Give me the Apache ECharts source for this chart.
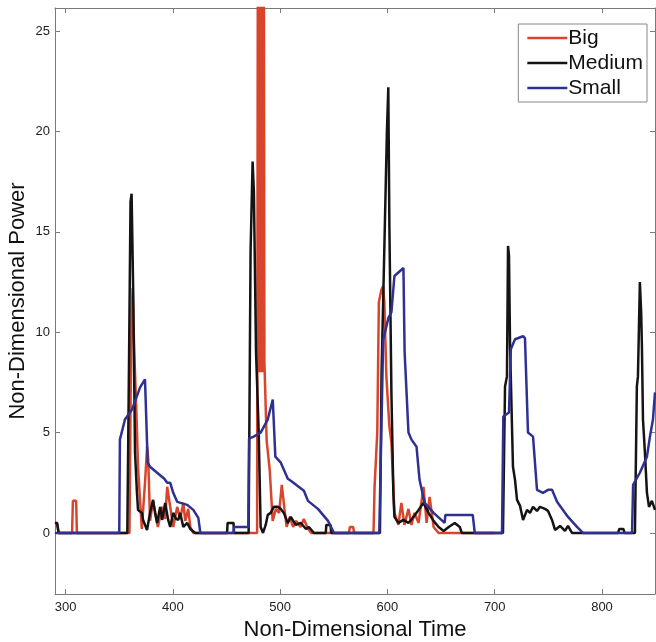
<!DOCTYPE html>
<html>
<head>
<meta charset="utf-8">
<script src="https://cdn.jsdelivr.net/npm/echarts@6/dist/echarts.min.js"></script>
<style>
html,body{margin:0;padding:0;background:#fff;}
#chart{width:656px;height:642px;}
</style>
</head>
<body>
<div id="chart"></div>
<script>
// Tick labels
var xTicks = [300, 400, 500, 600, 700, 800];
var yTicks = [0, 5, 10, 15, 20, 25];

// Series: Big (red)
var bigT = [290, 292, 293.5, 306, 306.8, 309.8, 310.5, 359.5, 360.5, 361.5, 362.5, 364, 366, 367.5, 371, 374, 376, 377, 378.7, 381.5, 386, 390, 392.8, 394.7, 397.5, 400.3, 404, 406.8, 409.7, 411.5, 414.3, 416.2, 419,
  478.5, 479.2, 480.2, 481.2, 482.2, 483.2, 484.2, 484.8, 485.3, 487.4, 490.3, 493, 496, 499, 501.5, 504, 506, 509, 512, 515, 519, 522, 526, 529, 564, 565, 568, 569,
  587, 588, 590.5, 592, 594.3, 596, 597.1, 599, 601.8, 603.7, 605.5, 606.5, 610.2, 613, 615.8, 619.6, 622.4, 625.2, 629, 633.6, 636.5, 639.3, 643, 647.7, 700];
var bigP = [0.5, 0.5, 0, 0, 1.6, 1.6, 0, 0, 6, 11, 12.2, 9, 6, 3.3, 0.2, 2.5, 4.3, 3.7, 0.6, 1.6, 0.3, 1.3, 0.7, 2.3, 1.3, 0.3, 1.3, 0.7, 1.5, 0.6, 1.2, 0.3, 0,
  0, 30, 8, 30, 8, 30, 8, 30, 8.5, 4.6, 3.1, 0.6, 1.2, 1.0, 2.4, 1.2, 0.3, 0.8, 0.3, 0.6, 0.3, 0.7, 0.2, 0, 0, 0.3, 0.3, 0,
  0, 2.3, 5, 11.5, 12.1, 12.3, 11.5, 7.8, 5.3, 4.5, 2.3, 1.0, 0.4, 1.5, 0.4, 1.2, 0.4, 1.0, 0.5, 2.3, 0.5, 1.8, 0.3, 0, 0];

// Series: Medium (black)
var mediumT = [290, 292, 293.5, 357.5, 359, 360.5, 361.5, 363, 364.7, 366.5, 367.5, 371.2, 372.2, 375.9, 378.7, 381.5, 383.4, 385.3, 388.1, 390, 392.8, 395.6, 397.5, 400.3, 403, 405, 406.8, 409.7, 413.4, 416.2, 420.9,
  450.5, 451, 456.5, 457, 470.6, 472.4, 474.3, 475.5, 477.5, 480, 481.8, 484, 486.5, 488.4, 491.2, 494, 497.8, 500.6, 503.4, 507.1, 509.9, 514.6, 519.3, 524, 526.8, 531.5, 542.5, 543, 547, 547.5,
  593, 594.5, 596.2, 599.5, 600.8, 601.8, 603.7, 605.5, 606.5, 610.2, 614.9, 619.6, 624.3, 629, 633.6, 638.3, 643, 647.7, 652.4, 657.1, 662.7, 667.4, 669.3,
  707.7, 709.6, 711.4, 712.4, 713.3, 714.3, 717, 718.9, 720.8, 723.6, 726.4, 730.1, 732.9, 735.7, 739.4, 742.2, 746.9, 749.7, 753.4, 756.2, 760.9, 765.5, 768.3, 772, 815, 816, 820, 821,
  830.7, 832.5, 833.5, 835.3, 836.5, 837.2, 838.2, 840, 841.9, 843.8, 846.5, 849.4];
var mediumP = [0.5, 0.5, 0, 0, 8, 16.5, 16.9, 12, 4.0, 2.0, 1.15, 1.0, 0.65, 0.15, 1.0, 1.65, 1.0, 0.5, 1.3, 0.65, 1.5, 0.65, 0.3, 1.0, 0.7, 0.65, 1.0, 0.3, 0.5, 0.2, 0,
  0, 0.5, 0.5, 0, 0, 14, 18.5, 17, 9, 5.0, 0.3, 0, 0.4, 0.9, 1.0, 1.3, 1.3, 1.2, 1.0, 0.5, 0.8, 0.4, 0.5, 0.2, 0.3, 0, 0, 0.4, 0.4, 0,
  0, 8, 12, 20, 22.2, 15.3, 7.0, 2.0, 0.8, 0.5, 0.65, 0.5, 0.8, 1.15, 1.5, 1.0, 0.6, 0.3, 0.1, 0.3, 0.5, 0.3, 0,
  0, 7.3, 7.8, 14.3, 13.8, 9.3, 3.3, 2.65, 1.65, 1.35, 0.65, 1.15, 1.0, 1.3, 1.1, 1.3, 1.2, 1.1, 0.65, 0.15, 0.35, 0.1, 0.35, 0, 0, 0.2, 0.2, 0,
  0, 7.3, 7.8, 12.5, 11, 9.3, 5.65, 4.0, 2.0, 1.3, 1.6, 1.15];

// Series: Small (blue)
var smallT = [290, 350, 350.6, 355.3, 361.9, 369.4, 374, 375.5, 376.5, 378.7, 385.3, 392, 394.7, 397.5, 400.3, 404, 413.4, 419, 423.7, 425.6,
  456.5, 457, 470.3, 471, 475.3, 481.8, 488.4, 493.1, 494.5, 495.5, 500.6, 507.1, 509.9, 522.1, 525.9, 535.2, 544.6, 550.2,
  592.4, 596, 600.8, 603.7, 606.5, 614.9, 616, 619.6, 622.4, 627.1, 629.9, 634.6, 643, 653.3, 654, 679.5, 681.4,
  706.8, 708, 713.3, 715, 718.9, 726.4, 728.2, 731, 735.7, 739.4, 745, 749.7, 753.4, 758.1, 768.3, 776.7, 782.3,
  828, 829, 835.3, 841.9, 844.7, 847.5, 849.4];
var smallP = [0, 0, 4.65, 5.65, 6.15, 7.25, 7.65, 7.6, 3.5, 3.3, 3.0, 2.7, 2.5, 2.5, 2.0, 1.55, 1.4, 1.15, 0.75, 0,
  0, 0.3, 0.3, 4.7, 4.8, 5.0, 5.65, 6.65, 6.7, 3.8, 3.5, 2.7, 2.6, 2.1, 1.6, 1.2, 0.6, 0,
  0, 9.6, 10.7, 11.0, 12.8, 13.2, 9.0, 5.0, 4.65, 4.3, 2.65, 1.5, 1.0, 0.5, 0.9, 0.9, 0,
  0, 5.8, 6.0, 9.15, 9.65, 9.8, 9.7, 5.0, 4.8, 2.15, 2.0, 2.15, 2.15, 1.55, 0.8, 0.3, 0,
  0, 2.4, 3.0, 3.8, 4.8, 5.65, 7.0];

function zip(t, p) { return t.map(function (v, i) { return [v, p[i]]; }); }

var FONT = '"Liberation Sans", Arial, Helvetica, sans-serif';
var frame = '#7a7a7a';
var xMin = 290.1, xMax = 849.4, yMin = -3.04, yMax = 26.15;

var chart = echarts.init(document.getElementById('chart'), null, { renderer: 'canvas' });
function axisCommon(show) {
  return {
    axisLine: { show: true, onZero: false, lineStyle: { color: frame, width: 1 } },
    axisTick: { show: true, inside: true, length: 5, lineStyle: { color: frame } },
    splitLine: { show: false },
    axisLabel: { show: show, color: '#222', fontSize: 13, fontFamily: FONT }
  };
}
var xb = axisCommon(true);
xb.axisTick.customValues = xTicks; xb.axisLabel.customValues = xTicks; xb.axisLabel.margin = 7;
var xt = axisCommon(false);
xt.axisTick.customValues = xTicks;
var yl = axisCommon(true);
yl.axisTick.customValues = yTicks; yl.axisLabel.customValues = yTicks; yl.axisLabel.margin = 5;
var yr = axisCommon(false);
yr.axisTick.customValues = yTicks;

var option = {
  animation: false,
  backgroundColor: '#fff',
  textStyle: { fontFamily: FONT },
  grid: { left: 55, right: 1, top: 8, bottom: 48, containLabel: false, outerBoundsMode: 'none' },
  legend: {
    orient: 'vertical', right: 9, top: 24,
    backgroundColor: '#fff', borderColor: '#888', borderWidth: 1,
    padding: [2, 4, 2, 9], itemGap: 1, itemWidth: 40, itemHeight: 2.5,
    icon: 'rect',
    textStyle: { fontSize: 21, lineHeight: 24, color: '#111', fontFamily: FONT, padding: [0, 0, 0, -4] },
    data: ['Big', 'Medium', 'Small']
  },
  xAxis: [
    Object.assign({ type: 'value', min: xMin, max: xMax, position: 'bottom',
      name: 'Non-Dimensional Time', nameLocation: 'middle', nameGap: 23,
      nameTextStyle: { fontSize: 22, color: '#111', fontFamily: FONT } }, xb),
    Object.assign({ type: 'value', min: xMin, max: xMax, position: 'top' }, xt)
  ],
  yAxis: [
    Object.assign({ type: 'value', min: yMin, max: yMax, position: 'left',
      name: 'Non-Dimensional Power', nameLocation: 'middle', nameGap: 26, nameMoveOverlap: false,
      nameTextStyle: { fontSize: 22, color: '#111', fontFamily: FONT } }, yl),
    Object.assign({ type: 'value', min: yMin, max: yMax, position: 'right' }, yr)
  ],
  series: [
    { name: 'Big', type: 'line', data: zip(bigT, bigP), symbol: 'none', clip: true,
      lineStyle: { color: '#d9452c', width: 2.5 }, itemStyle: { color: '#d9452c' } },
    { name: 'Medium', type: 'line', data: zip(mediumT, mediumP), symbol: 'none', clip: true,
      lineStyle: { color: '#141414', width: 2.5 }, itemStyle: { color: '#141414' } },
    { name: 'Small', type: 'line', data: zip(smallT, smallP), symbol: 'none', clip: true,
      lineStyle: { color: '#2e3192', width: 2.5 }, itemStyle: { color: '#2e3192' } }
  ]
};
chart.setOption(option);
</script>
</body>
</html>
